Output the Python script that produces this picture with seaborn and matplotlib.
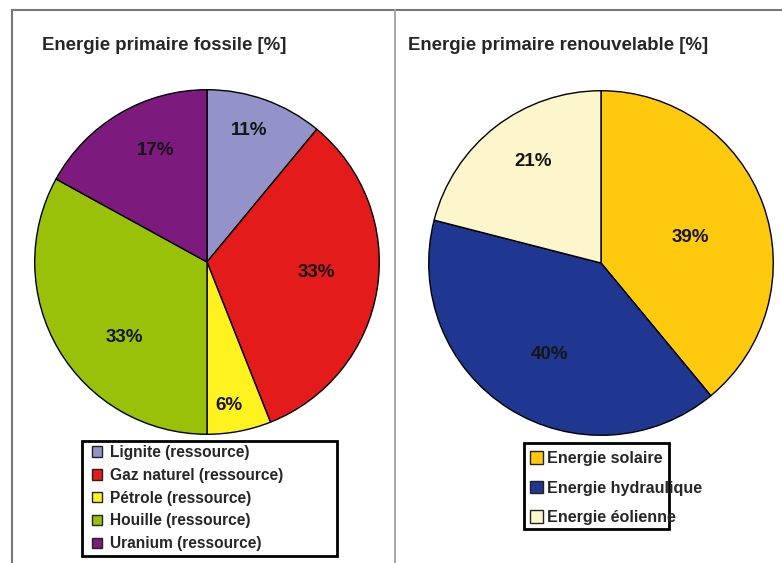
import matplotlib
matplotlib.use("Agg")
import matplotlib.pyplot as plt
import numpy as np
import seaborn as sns
from matplotlib.patches import Patch, Rectangle
from matplotlib.lines import Line2D

# ---- data ----
fossil_labels = ["Lignite (ressource)", "Gaz naturel (ressource)", "Pétrole (ressource)",
                 "Houille (ressource)", "Uranium (ressource)"]
fossil_values = [11, 33, 6, 33, 17]
fossil_colors = ["#9393C9", "#E31B1B", "#FFF21F", "#99C10A", "#7D1A7D"]

renew_labels = ["Energie solaire", "Energie hydraulique", "Energie éolienne"]
renew_values = [39, 40, 21]
renew_colors = ["#FFC90E", "#1F3790", "#FDF6CC"]

title_left = "Energie primaire fossile [%]"
title_right = "Energie primaire renouvelable [%]"

# label placement (style): radial distance and clockwise angular shift of each percent label
fossil_label_dist = [0.80, 0.64, 0.84, 0.65, 0.71]
fossil_label_shift = [-2, -3.5, 2, -12, 6]
renew_label_dist = [0.54, 0.61, 0.71]
renew_label_shift = [3.7, -3, 4]

sns.set_theme(style="white")
plt.rcParams["font.family"] = ["Liberation Sans", "DejaVu Sans"]

W, H = 782, 563
fig = plt.figure(figsize=(W / 100, H / 100), dpi=100)
fig.patch.set_facecolor("white")

def px_axes(cx, cy, r):
    return fig.add_axes([(cx - r) / W, (H - cy - r) / H, 2 * r / W, 2 * r / H])

def draw_pie(ax, values, colors, dists, shifts):
    pal = sns.color_palette(colors)
    wedges, texts, autotexts = ax.pie(
        values, colors=pal, startangle=90, counterclock=False,
        autopct=lambda p: f"{p:.0f}%", pctdistance=0.7,
        wedgeprops=dict(edgecolor="black", linewidth=1.0),
        textprops=dict(fontsize=13.5, fontweight="bold", color="#151515"))
    for w, t, d, s in zip(wedges, autotexts, dists, shifts):
        ang = np.deg2rad((w.theta1 + w.theta2) / 2 - s)
        t.set_position((d * np.cos(ang), d * np.sin(ang)))
    ax.set_xlim(-1.01, 1.01)
    ax.set_ylim(-1.01, 1.01)
    ax.axis("off")
    return wedges

ax1 = px_axes(207, 262, 174)
draw_pie(ax1, fossil_values, fossil_colors, fossil_label_dist, fossil_label_shift)
ax2 = px_axes(601, 263, 174)
draw_pie(ax2, renew_values, renew_colors, renew_label_dist, renew_label_shift)

# titles
fig.text(42 / W, 1 - 45 / H, title_left, fontsize=13.4, fontweight="bold", va="center", ha="left")
fig.text(408 / W, 1 - 45 / H, title_right, fontsize=13.4, fontweight="bold", va="center", ha="left")

# borders
fig.add_artist(Line2D([12 / W, 12 / W], [0, 1 - 10 / H], color="#777777", lw=1.5))
fig.add_artist(Line2D([12 / W, 1], [1 - 10 / H, 1 - 10 / H], color="#777777", lw=1.5))
fig.add_artist(Line2D([395 / W, 395 / W], [0, 1 - 10 / H], color="#AAAAAA", lw=1.5))

# legend frames
def frame(x0, y0, x1, y1):
    fig.add_artist(Rectangle((x0 / W, 1 - y1 / H), (x1 - x0) / W, (y1 - y0) / H,
                             fill=False, edgecolor="black", lw=2.0, transform=fig.transFigure))

frame(82, 441, 337, 556)
frame(524, 443, 669, 529)

h1 = [Patch(facecolor=c, edgecolor="#222222", lw=1.0) for c in fossil_colors]
leg1 = fig.legend(h1, fossil_labels, loc="upper left", bbox_to_anchor=(89 / W, 1 - 442 / H),
                  frameon=False, prop=dict(size=11.2, weight="bold"),
                  handlelength=0.65, handleheight=0.65,
                  handletextpad=0.5, labelspacing=0.5, borderpad=0.2, borderaxespad=0)
h2 = [Patch(facecolor=c, edgecolor="#222222", lw=1.0) for c in renew_colors]
leg2 = fig.legend(h2, renew_labels, loc="upper left", bbox_to_anchor=(527 / W, 1 - 448 / H),
                  frameon=False, prop=dict(size=11.6, weight="bold"),
                  handlelength=0.8, handleheight=0.8,
                  handletextpad=0.25, labelspacing=0.9, borderpad=0.2, borderaxespad=0)

fig.savefig("out.png", dpi=100, facecolor="white")
